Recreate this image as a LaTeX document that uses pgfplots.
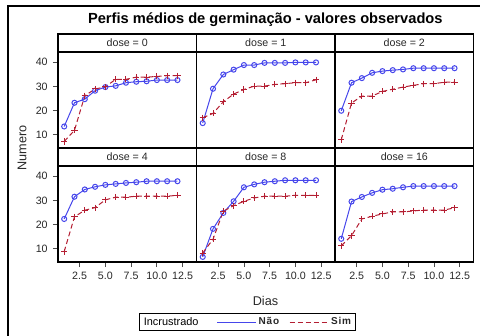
\documentclass[border=0pt]{standalone}
\usepackage{pgfplots}
\usepackage{pgfplotstable}
\pgfplotsset{compat=1.18}
\usepackage{fontspec}
\setmainfont{Liberation Sans}

\definecolor{naoblue}{RGB}{70,70,235}
\definecolor{simred}{RGB}{180,30,50}
\definecolor{txt}{RGB}{40,40,40}

% mean germination counts per day: columns dia, nao, sim
\pgfplotstableread{
dia nao sim
1 13.4 7.2
2 23.2 11.8
3 24.7 26.1
4 28.2 28.9
5 29.7 29.8
6 30.2 32.9
7 31.5 32.9
8 31.9 33.8
9 32.1 33.8
10 32.6 34.1
11 32.6 34.4
12 32.6 34.4
}\doseA
\pgfplotstableread{
dia nao sim
1 14.8 17.0
2 29.0 18.8
3 34.9 23.6
4 36.9 26.8
5 38.8 28.7
6 38.8 30.1
7 39.7 30.1
8 39.7 30.8
9 39.7 31.1
10 39.9 31.5
11 39.9 31.5
12 39.9 32.7
}\doseB
\pgfplotstableread{
dia nao sim
1 19.9 7.9
2 31.5 23.1
3 33.4 26.0
4 35.6 26.0
5 36.3 27.9
6 36.7 28.8
7 37.0 29.7
8 37.5 30.4
9 37.5 31.1
10 37.5 31.1
11 37.5 31.7
12 37.5 31.7
}\doseC
\pgfplotstableread{
dia nao sim
1 22.3 8.8
2 31.5 23.2
3 34.5 25.9
4 35.6 27.0
5 36.4 30.2
6 36.8 31.3
7 37.2 31.3
8 37.5 31.7
9 37.9 31.7
10 37.9 31.7
11 37.9 31.7
12 37.9 32.1
}\doseD
\pgfplotstableread{
dia nao sim
1 6.6 8.2
2 18.2 13.9
3 24.8 25.5
4 29.6 27.8
5 35.4 29.6
6 36.6 31.0
7 37.5 31.7
8 37.9 31.7
9 38.3 31.7
10 38.3 32.1
11 38.3 32.1
12 38.3 32.1
}\doseE
\pgfplotstableread{
dia nao sim
1 14.1 11.2
2 29.5 15.4
3 31.4 22.3
4 33.1 23.4
5 34.4 24.4
6 34.8 25.2
7 35.4 25.2
8 35.9 25.6
9 35.9 26.0
10 35.9 26.0
11 35.9 26.0
12 35.9 26.9
}\doseF

\pgfplotsset{
  panel/.style={
    scale only axis, width=103.9pt, height=72pt,
    anchor=north west,
    xmin=0.4, xmax=13.85, ymin=4.5, ymax=44.2,
    axis line style={line width=1.1pt, black},
    tick align=outside, major tick length=3.75pt, tick pos=left,
    tick style={line width=0.6pt, black!70},
    ticklabel style={font=\fontsize{8}{9}\selectfont, text=txt},
    yticklabel style={xshift=-0.5pt},
    /pgf/number format/assume math mode=true,
    xtick={2.5,5,7.5,10,12.5}, ytick={10,20,30,40},
    xticklabel={\pgfmathprintnumber[fixed,fixed zerofill,precision=1]{\tick}},
    clip=false,
  },
  notx/.style={xtick=\empty},
  noty/.style={ytick=\empty},
  naoline/.style={color=naoblue, line width=0.75pt, mark=o, mark size=1.9pt, mark options={solid}},
  simline/.style={color=simred, line width=0.75pt, dash pattern=on 3.75pt off 2.25pt, mark=+, mark size=2.3pt, mark options={solid}},
}

\newcommand{\series}[1]{%
  \addplot[naoline] table[x=dia, y=nao] {#1};
  \addplot[simline] table[x=dia, y=sim] {#1};
}

\begin{document}
\begin{tikzpicture}[x=1pt, y=1pt]
\useasboundingbox (0,0) rectangle (360,-252);

% outer frame
\draw[line width=1.1pt] (6,-252) -- (6,-4.5) -- (360,-4.5);

\node[font=\bfseries\fontsize{11}{13}\selectfont, text=black] at (199,-14.5)
  {Perfis médios de germinação - valores observados};

% top row
\begin{axis}[panel, notx, at={(43.5pt,-39pt)}]
  \series{\doseA}
\end{axis}
\begin{axis}[panel, notx, noty, at={(147.4pt,-39pt)}]
  \series{\doseB}
\end{axis}
\begin{axis}[panel, notx, noty, at={(251.3pt,-39pt)}]
  \series{\doseC}
\end{axis}
% bottom row
\begin{axis}[panel, at={(43.5pt,-124.5pt)}]
  \series{\doseD}
\end{axis}
\begin{axis}[panel, noty, at={(147.4pt,-124.5pt)},
    legend columns=3,
    legend image code/.code={\draw[#1, line width=0.8pt] (0pt,0pt) -- (29.25pt,0pt);},
    legend style={at={(0.368,-0.531)}, anchor=north, draw=black, line width=0.75pt,
      inner xsep=1.5pt, inner ysep=1.2pt,
      font=\fontsize{8.2}{9}\selectfont,
      nodes={inner sep=1.5pt, text=black},
      /tikz/column 2/.style={column sep=12pt},
      /tikz/column 4/.style={column sep=6pt}},
  ]
  \addlegendimage{empty legend}
  \addlegendentry{Incrustrado}
  \series{\doseE}
  \addlegendentry{\bfseries\fontsize{7.5}{9}\selectfont\color{txt}N\kern0.6ptã\kern0.6pto}
  \addlegendentry{\bfseries\fontsize{7.5}{9}\selectfont\color{txt}S\kern0.6pti\kern0.6ptm}
\end{axis}
\begin{axis}[panel, noty, at={(251.3pt,-124.5pt)}]
  \series{\doseF}
\end{axis}

% panel headers
\tikzset{hdr/.style={line width=1.1pt, black}}
\foreach \x/\lab in {43.5/0, 147.4/1, 251.3/2} {
  \draw[hdr] (\x,-25.5) rectangle ++(103.9,-13.5);
  \node[font=\fontsize{8}{9}\selectfont, text=txt] at ([xshift=51.95pt]\x,-32.25) {dose = \lab};
}
\foreach \x/\lab in {43.5/4, 147.4/8, 251.3/16} {
  \draw[hdr] (\x,-111) rectangle ++(103.9,-13.5);
  \node[font=\fontsize{8}{9}\selectfont, text=txt] at ([xshift=51.95pt]\x,-117.75) {dose = \lab};
}

% axis titles
\node[rotate=90, font=\fontsize{9.5}{11}\selectfont, text=txt] at (16.5,-111) {Numero};
\node[font=\fontsize{9.5}{11}\selectfont, text=txt] at (199.1,-225.75) {Dias};
\end{tikzpicture}
\end{document}
